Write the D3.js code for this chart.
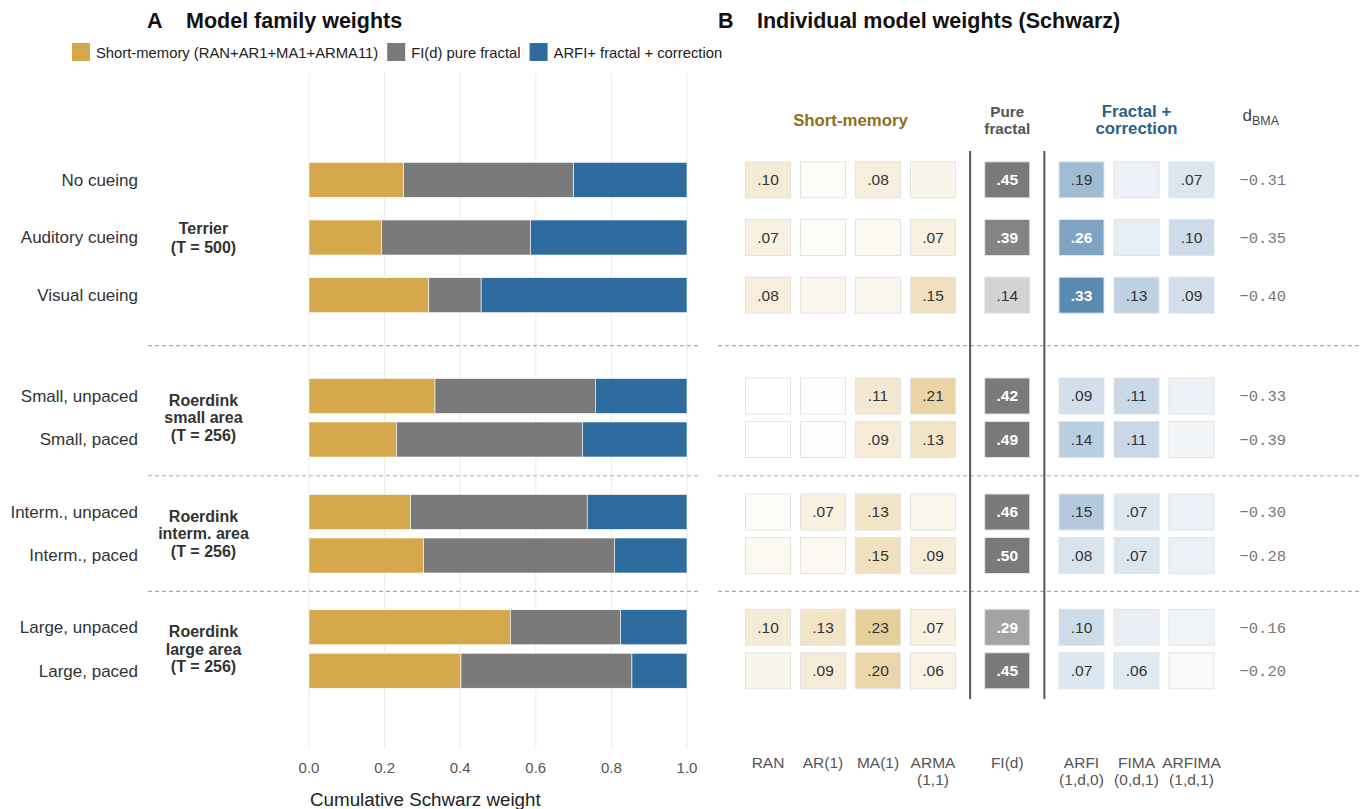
<!DOCTYPE html>
<html><head><meta charset="utf-8">
<script src="https://cdn.jsdelivr.net/npm/d3@7"></script>
<style>body{margin:0;background:#fff;} svg{display:block;font-family:"Liberation Sans",Arial,sans-serif;}</style>
</head><body>
<svg id="chart" width="1367" height="809"></svg>
<script>
// ---------------- DATA ----------------
const rowLabels = ["No cueing","Auditory cueing","Visual cueing","Small, unpaced","Small, paced","Interm., unpaced","Interm., paced","Large, unpaced","Large, paced"];
const rowGroups = [0,0,0,1,1,2,2,3,3];
const groupLabels = [["Terrier","(T = 500)"],["Roerdink","small area","(T = 256)"],["Roerdink","interm. area","(T = 256)"],["Roerdink","large area","(T = 256)"]];
const modelLabels = [["RAN"],["AR(1)"],["MA(1)"],["ARMA","(1,1)"],["FI(d)"],["ARFI","(1,d,0)"],["FIMA","(0,d,1)"],["ARFIMA","(1,d,1)"]];
const modelFamily = [0,0,0,0,1,2,2,2];
const familyNames = ["Short-memory (RAN+AR1+MA1+ARMA11)","FI(d) pure fractal","ARFI+ fractal + correction"];
const familyHeaders = [["Short-memory"],["Pure","fractal"],["Fractal +","correction"]];
// Schwarz weights: RAN, AR(1), MA(1), ARMA(1,1), FI(d), ARFI, FIMA, ARFIMA
const wNoCue     = [0.10,0.02,0.08,0.05,0.45,0.19,0.04,0.07];
const wAuditory  = [0.07,0.015,0.035,0.07,0.39,0.26,0.05,0.10];
const wVisual    = [0.08,0.045,0.045,0.15,0.14,0.33,0.13,0.09];
const wSmallUnp  = [0.00,0.01,0.11,0.21,0.42,0.09,0.11,0.04];
const wSmallPac  = [0.00,0.01,0.09,0.13,0.49,0.14,0.11,0.025];
const wIntUnp    = [0.02,0.07,0.13,0.045,0.46,0.15,0.07,0.04];
const wIntPac    = [0.03,0.03,0.15,0.09,0.50,0.08,0.07,0.04];
const wLargeUnp  = [0.10,0.13,0.23,0.07,0.29,0.10,0.045,0.03];
const wLargePac  = [0.05,0.09,0.20,0.06,0.45,0.07,0.06,0.015];
const weights = [wNoCue,wAuditory,wVisual,wSmallUnp,wSmallPac,wIntUnp,wIntPac,wLargeUnp,wLargePac];
const dBMA = [-0.31,-0.35,-0.40,-0.33,-0.39,-0.30,-0.28,-0.16,-0.20];
const xTicks = [0,0.2,0.4,0.6,0.8,1.0];

// ---------------- STYLE / LAYOUT ----------------
const familyColors = ["#d4a84b","#7a7a7a","#2e6b9e"];
const headerColors = ["#8f6f1c","#555555","#2a5f86"];
const svg = d3.select("#chart");

// family sums (normalised)
const famData = weights.map((w,i)=>{
  const tot = d3.sum(w);
  const f = [0,1,2].map(k=>d3.sum(w.filter((_,j)=>modelFamily[j]===k))/tot);
  return {row:rowLabels[i], short:f[0], fi:f[1], corr:f[2]};
});
const stack = d3.stack().keys(["short","fi","corr"])(famData);

// y layout per group
const groupRanges = [[151,324],[374.25,461.25],[490.25,577.25],[605.5,692.5]];
const barH = 35;
const groupScales = groupRanges.map((r,g)=>{
  const dom = rowLabels.filter((_,i)=>rowGroups[i]===g);
  const step = (r[1]-r[0])/dom.length;
  const p = 1 - barH/step;
  return d3.scaleBand().domain(dom).range(r).paddingInner(p).paddingOuter(p/2);
});
const yTop = i => groupScales[rowGroups[i]](rowLabels[i]);
const yMid = i => yTop(i) + barH/2;

// ---------------- TITLES ----------------
const title = (x0,t)=>svg.append("text").attr("x",x0).attr("y",28).attr("font-size",21.5).attr("font-weight","bold").attr("fill","#111").text(t);
title(147,"A"); title(186,"Model family weights");
title(718,"B"); title(757,"Individual model weights (Schwarz)");

// legend
let lx = 72;
familyNames.forEach((n,k)=>{
  svg.append("rect").attr("x",lx).attr("y",43).attr("width",18).attr("height",18).attr("fill",familyColors[k]);
  const t = svg.append("text").attr("x",lx+24).attr("y",57.5).attr("font-size",14.8).attr("fill","#222").text(n);
  lx += 24 + t.node().getComputedTextLength() + 9;
});

// ---------------- PANEL A ----------------
const x = d3.scaleLinear().domain([0,1]).range([309,687]);
svg.append("g").selectAll("line").data(xTicks).join("line")
  .attr("x1",d=>x(d)).attr("x2",d=>x(d)).attr("y1",73).attr("y2",748)
  .attr("stroke","#ebebeb").attr("stroke-width",1);
svg.append("g").selectAll("text").data(xTicks).join("text")
  .attr("x",d=>x(d)).attr("y",773).attr("text-anchor","middle").attr("font-size",15).attr("fill","#555")
  .text(d=>d3.format(".1f")(d));
svg.append("text").attr("x",310).attr("y",806).attr("font-size",18.8).attr("fill","#222").text("Cumulative Schwarz weight");

stack.forEach((layer,k)=>{
  svg.append("g").selectAll("rect").data(layer).join("rect")
    .attr("x",d=>x(d[0])).attr("width",d=>x(d[1])-x(d[0]))
    .attr("y",(d,i)=>yTop(i)).attr("height",barH)
    .attr("fill",familyColors[k]).attr("stroke","#fff").attr("stroke-width",0.6);
});

// row labels
svg.append("g").selectAll("text").data(rowLabels).join("text")
  .attr("x",138).attr("y",(d,i)=>yMid(i)).attr("dy","0.35em").attr("text-anchor","end")
  .attr("font-size",17).attr("fill","#333").text(d=>d);

// group labels
groupLabels.forEach((lines,g)=>{
  const idx = rowGroups.map((v,i)=>v===g?i:-1).filter(i=>i>=0);
  const c = (yMid(idx[0])+yMid(idx[idx.length-1]))/2;
  const lh = lines.length>2 ? 17.5 : 19;
  lines.forEach((l,j)=>{
    svg.append("text").attr("x",203.5).attr("y",c+(j-(lines.length-1)/2)*lh).attr("dy","0.35em")
      .attr("text-anchor","middle").attr("font-size",16).attr("font-weight","bold").attr("fill","#333").text(l);
  });
});

// separators
for(let g=0; g<groupLabels.length-1; g++){
  const last = rowGroups.lastIndexOf(g), first = rowGroups.indexOf(g+1);
  const ys = (yMid(last)+yMid(first))/2;
  [[148,700],[718,1362]].forEach(([a,b])=>{
    svg.append("line").attr("x1",a).attr("x2",b).attr("y1",ys).attr("y2",ys)
      .attr("stroke","#aaa").attr("stroke-width",1.2).attr("stroke-dasharray","4,3");
  });
}

// ---------------- PANEL B ----------------
const slot = modelFamily.map((f,j)=>j + 0.35*f);
const xb = d3.scaleLinear().domain([0,1]).range([768,823]);
const tileW = 45, tileH = 36;
const fillScale = (v,k)=>d3.interpolateRgb("#ffffff",familyColors[k])(Math.min(1, v/0.42));

// family headers
familyHeaders.forEach((lines,k)=>{
  const js = modelFamily.map((f,j)=>f===k?j:-1).filter(j=>j>=0);
  const cx = (xb(slot[js[0]])+xb(slot[js[js.length-1]]))/2;
  const cy = 120;
  lines.forEach((l,i)=>{
    svg.append("text").attr("x",cx).attr("y",cy+(i-(lines.length-1)/2)*17).attr("dy","0.35em")
      .attr("text-anchor","middle").attr("font-size",k===1?15.3:16.8).attr("font-weight","bold")
      .attr("fill",headerColors[k]).text(l);
  });
});
const dX = xb(slot[7]) + 48;
const dh = svg.append("text").attr("x",dX+3).attr("y",121).attr("font-size",17).attr("fill","#444");
dh.append("tspan").text("d");
dh.append("tspan").attr("font-size",12.5).attr("dy",4).text("BMA");

// vertical dividers
[[3,4],[4,5]].forEach(([a,b])=>{
  const vx = (xb(slot[a])+xb(slot[b]))/2;
  svg.append("line").attr("x1",vx).attr("x2",vx).attr("y1",151).attr("y2",699).attr("stroke","#555").attr("stroke-width",2);
});

// tiles
weights.forEach((w,i)=>{
  const g = svg.append("g");
  w.forEach((v,j)=>{
    const k = modelFamily[j];
    const cx = xb(slot[j]), cy = yMid(i);
    g.append("rect").attr("x",cx-tileW/2).attr("y",cy-tileH/2).attr("width",tileW).attr("height",tileH)
      .attr("fill",fillScale(v,k)).attr("stroke","#e3e3e3").attr("stroke-width",1);
    if(v>=0.06){
      g.append("text").attr("x",cx).attr("y",cy).attr("dy","0.35em").attr("text-anchor","middle")
        .attr("font-size",15.5).attr("font-weight",v/0.42>0.6?"bold":"normal")
        .attr("fill",v/0.42>0.6?"#fff":"#333").text(d3.format(".2f")(v).replace(/^0/,""));
    }
  });
  svg.append("text").attr("x",dX).attr("y",yMid(i)).attr("dy","0.35em")
    .attr("font-family","'Liberation Mono','Courier New',monospace").attr("font-size",15.5).attr("fill","#777")
    .text(d3.format(".2f")(dBMA[i]));
});

// model labels
modelLabels.forEach((lines,j)=>{
  lines.forEach((l,i)=>{
    svg.append("text").attr("x",xb(slot[j])).attr("y",768+i*17).attr("text-anchor","middle")
      .attr("font-size",15.5).attr("fill","#555").text(l);
  });
});
</script>
</body></html>
